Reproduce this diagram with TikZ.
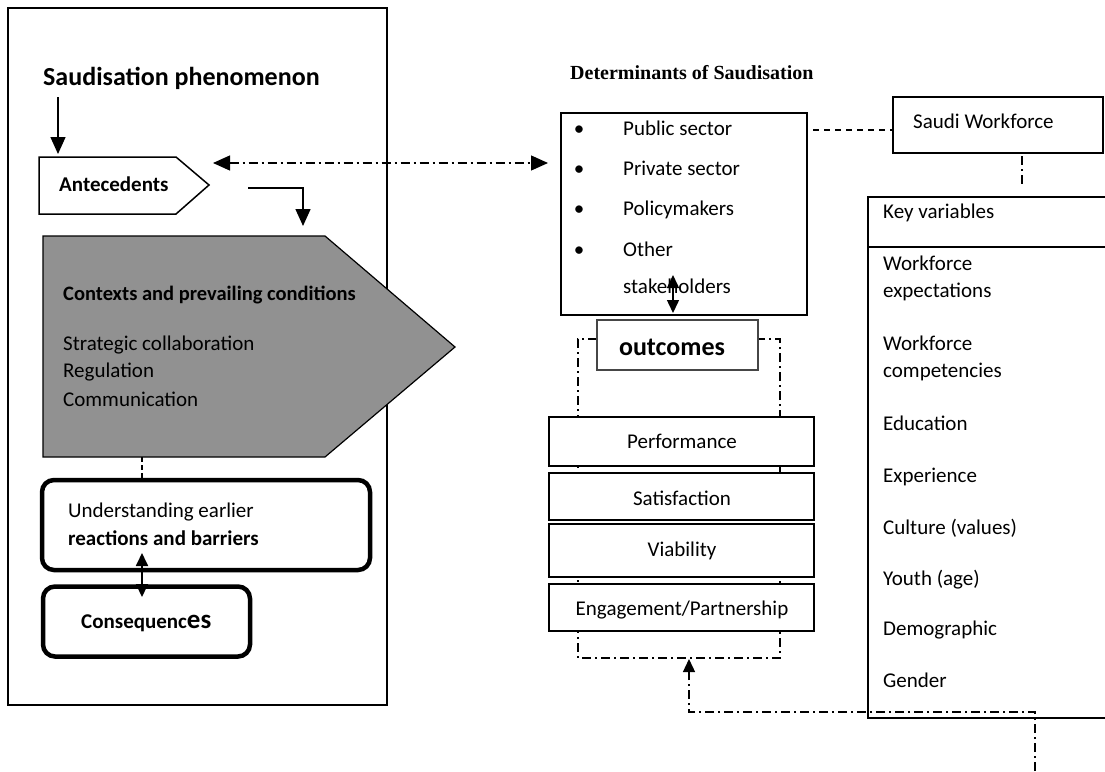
\documentclass[tikz,border=0pt]{standalone}
\usepackage{fontspec}
\setmainfont{Carlito}
\newfontfamily\timesfont{Liberation Serif}
\usetikzlibrary{arrows.meta}

\definecolor{contextgray}{RGB}{145,145,145}
\definecolor{outcomegray}{RGB}{70,70,70}

\tikzset{
  box/.style={draw, line width=2.2pt, fill=white, inner sep=0pt},
  thin box/.style={draw, line width=1.2pt, fill=white, inner sep=0pt},
  round box/.style={draw, line width=4.5pt, rounded corners=12pt, fill=white, inner sep=0pt},
  txt/.style={anchor=base west, inner sep=0pt, font=\fontsize{21}{25}\selectfont},
  ctxt/.style={anchor=base, inner sep=0pt, font=\fontsize{21}{25}\selectfont},
  dash dot line/.style={line width=1.3pt, dash pattern=on 9pt off 4pt on 2pt off 4pt},
  big tip/.style={>={Triangle[length=17pt,width=15pt]}},
  small tip/.style={>={Triangle[length=13pt,width=12pt]}}
}

\begin{document}
\begin{tikzpicture}[x=1pt, y=-1pt]
\useasboundingbox (0,0) rectangle (1105,771);
\clip (0,0) rectangle (1105,771);

% left frame
\node (Frame) at (197.5,356.5) [draw, line width=1.5pt, inner sep=0pt, minimum width=379, minimum height=697] {};

\node (Phenomenon) at (43,85) [txt, font=\fontsize{26}{30}\selectfont\bfseries] {Saudisation phenomenon};

\draw[line width=1.5pt] (39,157) -- (176,157) -- (209,185) -- (176,214) -- (39,214) -- cycle;
\node (Antecedents) at (59,191) [txt, font=\fontsize{21}{25}\selectfont\bfseries] {Antecedents};

\filldraw[fill=contextgray, line width=1.2pt] (43,236) -- (325,236) -- (455,347) -- (325,457) -- (43,457) -- cycle;
\node (Contexts) at (63,300) [txt, font=\fontsize{20.5}{25}\selectfont\bfseries] {Contexts and prevailing conditions};
\node (Strategic) at (63,350) [txt] {Strategic collaboration};
\node (Regulation) at (63,377) [txt] {Regulation};
\node (Communication) at (63,406) [txt] {Communication};

\node (Understanding) at (206,525) [round box, minimum width=328, minimum height=90] {};
\node (Understanding Text) at (68,517) [txt] {Understanding earlier};
\node (Reactions Text) at (68,545) [txt, font=\fontsize{21}{25}\selectfont\bfseries] {reactions and barriers};

\node (Consequences) at (146.5,621.5) [round box, minimum width=207, minimum height=70] {};
\node (Consequences Text) at (81,628) [txt, font=\fontsize{21}{25}\selectfont\bfseries] {Consequenc{\fontsize{27}{30}\selectfont es}};

\coordinate (Phenomenon Foot) at (58,97);
\coordinate (Antecedents Top) at (58,154);
\coordinate (Antecedents Out) at (248,188);
\coordinate (Contexts Top) at (303,226);
\coordinate (Contexts Foot) at (142,457);
\coordinate (Understanding Top) at (142,479);
\coordinate (Understanding Foot) at (142,553);
\coordinate (Consequences Top) at (142,597);

\draw[->, big tip, line width=1.5pt] (Phenomenon Foot) -- (Antecedents Top);
\draw[->, big tip, line width=1.5pt] (Antecedents Out) -| (Contexts Top);
\draw[dashed, line width=1.3pt, dash pattern=on 5pt off 3pt] (Contexts Foot) -- (Understanding Top);
\draw[<->, small tip, line width=1.8pt] (Understanding Foot) -- (Consequences Top);

% right side
\node (Determinants) at (570,79) [txt, font=\fontsize{20}{24}\selectfont\timesfont\bfseries] {Determinants of Saudisation};

\node (Stakeholders) at (684,214) [box, minimum width=246, minimum height=202] {};
\foreach \y/\item in {135/Public sector, 175/Private sector, 215/Policymakers, 256/Other}
  \node at (579,\y) [ctxt] {\textbullet};
\foreach \y/\item in {135/Public sector, 175/Private sector, 215/Policymakers, 256/Other, 293/stakeholders}
  \node at (623,\y) [txt] {\item};

\node (Saudi Workforce) at (998,125) [thin box, minimum width=210, minimum height=56] {};
\node (Saudi Workforce Text) at (913,128) [txt] {Saudi Workforce};

\node (Key Variables) at (994,457.5) [draw, line width=2.2pt, inner sep=0pt, minimum width=252, minimum height=521] {};
\draw[line width=2.2pt] (868,247) -- (1120,247);
\node at (883,218) [txt] {Key variables};
\foreach \y/\item in {270/Workforce, 297/expectations, 350/Workforce, 377/competencies, 430/Education, 482/Experience, 534/Culture (values), 585/Youth (age), 635/Demographic, 687/Gender}
  \node at (883,\y) [txt] {\item};

% outcomes bracket
\coordinate (Bracket Left Top) at (597,339);
\coordinate (Bracket Right Top) at (758,339);
\draw[dash dot line] (Bracket Left Top) -- (578,339) -- (578,658) -- (780,658) -- (780,339) -- (Bracket Right Top);

\node (Outcomes) at (677.5,345) [thin box, draw=outcomegray, minimum width=161, minimum height=50] {};
\node (Outcomes Text) at (672,355) [ctxt, font=\fontsize{26}{30}\selectfont\bfseries] {outcomes};

\node (Performance) at (681.5,441.5) [box, minimum width=265, minimum height=49] {};
\node (Satisfaction) at (681.5,496.5) [box, minimum width=265, minimum height=47] {};
\node (Viability) at (681.5,550.5) [box, minimum width=265, minimum height=53] {};
\node (Engagement) at (681.5,607.5) [box, minimum width=265, minimum height=47] {};
\node at (682,448) [ctxt] {Performance};
\node at (682,505) [ctxt] {Satisfaction};
\node at (682,556) [ctxt] {Viability};
\node at (682,615) [ctxt] {Engagement/Partnership};

\coordinate (Antecedents Tip) at (213,163);
\coordinate (Stakeholders Tip) at (548,163);
\coordinate (Stakeholders Foot) at (673,275);
\coordinate (Outcomes Top) at (673,313);
\coordinate (Stakeholders Side) at (813,130);
\coordinate (Workforce Side) at (892,130);
\coordinate (Workforce Foot) at (1022,156);
\coordinate (Key Top) at (1022,186);
\coordinate (Bottom Start) at (1035,771);
\coordinate (Bracket Foot) at (689,659);

\draw[<->, big tip, dash dot line] (Antecedents Tip) -- (Stakeholders Tip);
\draw[<->, small tip, line width=1.5pt] (Stakeholders Foot) -- (Outcomes Top);
\draw[line width=1.3pt, dash pattern=on 6pt off 5pt] (Stakeholders Side) -- (Workforce Side);
\draw[dash dot line] (Workforce Foot) -- (Key Top);
\draw[->, small tip, dash dot line] (Bottom Start) |- (689,712) -- (Bracket Foot);
\end{tikzpicture}
\end{document}
